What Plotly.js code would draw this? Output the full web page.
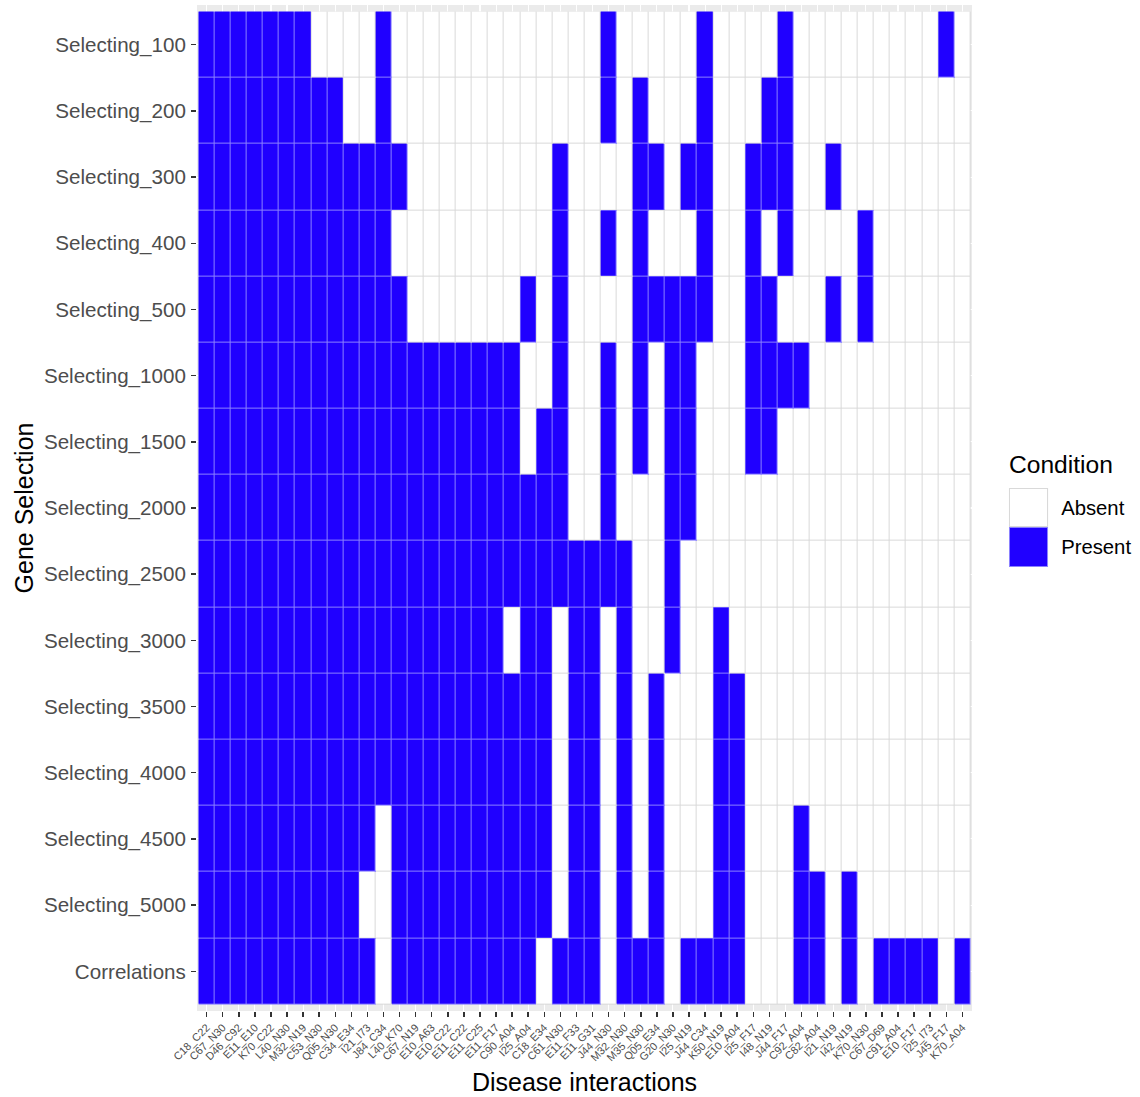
<!DOCTYPE html>
<html>
<head>
<meta charset="utf-8">
<script src="https://cdn.plot.ly/plotly-3.0.1.min.js"></script>
<style>html,body{margin:0;padding:0;background:#fff;}#chart{width:1140px;height:1097px;}</style>
</head>
<body>
<div id="chart"></div>
<script>
// ---- Data ----
const geneSelections = ['Selecting_100','Selecting_200','Selecting_300','Selecting_400','Selecting_500',
  'Selecting_1000','Selecting_1500','Selecting_2000','Selecting_2500','Selecting_3000',
  'Selecting_3500','Selecting_4000','Selecting_4500','Selecting_5000','Correlations'];

const interactions = ['C18_C22','C67_N30','D46_C92','E11_E10','K70_C22','L40_N30','M32_N19','C53_N30',
  'Q05_N30','C34_E34','I21_I73','J84_C34','L40_K70','C67_N19','E10_A63','E10_C22','E11_C22','E11_C25',
  'E11_F17','C90_A04','I25_A04','C18_E34','C61_N30','E11_F33','E11_G31','J44_N30','M32_N30','M35_N30',
  'Q05_E34','G20_N30','I25_N19','J44_C34','K50_N19','E10_A04','I25_F17','I48_N19','J44_F17','C92_A04',
  'C82_A04','I21_N19','I42_N19','K70_N30','C67_D69','C91_A04','E10_F17','I25_I73','J45_F17','K70_A04'];

const conditionLabels = ['Absent','Present'];
const conditionValues = [0, 1];

// 1 = Present, 0 = Absent (one value per interaction)
const sel100  = [1,1,1,1,1,1,1,0,0,0, 0,1,0,0,0,0,0,0,0,0, 0,0,0,0,0,1,0,0,0,0, 0,1,0,0,0,0,1,0,0,0, 0,0,0,0,0,0,1,0];
const sel200  = [1,1,1,1,1,1,1,1,1,0, 0,1,0,0,0,0,0,0,0,0, 0,0,0,0,0,1,0,1,0,0, 0,1,0,0,0,1,1,0,0,0, 0,0,0,0,0,0,0,0];
const sel300  = [1,1,1,1,1,1,1,1,1,1, 1,1,1,0,0,0,0,0,0,0, 0,0,1,0,0,0,0,1,1,0, 1,1,0,0,1,1,1,0,0,1, 0,0,0,0,0,0,0,0];
const sel400  = [1,1,1,1,1,1,1,1,1,1, 1,1,0,0,0,0,0,0,0,0, 0,0,1,0,0,1,0,1,0,0, 0,1,0,0,1,0,1,0,0,0, 0,1,0,0,0,0,0,0];
const sel500  = [1,1,1,1,1,1,1,1,1,1, 1,1,1,0,0,0,0,0,0,0, 1,0,1,0,0,0,0,1,1,1, 1,1,0,0,1,1,0,0,0,1, 0,1,0,0,0,0,0,0];
const sel1000 = [1,1,1,1,1,1,1,1,1,1, 1,1,1,1,1,1,1,1,1,1, 0,0,1,0,0,1,0,1,0,1, 1,0,0,0,1,1,1,1,0,0, 0,0,0,0,0,0,0,0];
const sel1500 = [1,1,1,1,1,1,1,1,1,1, 1,1,1,1,1,1,1,1,1,1, 0,1,1,0,0,1,0,1,0,1, 1,0,0,0,1,1,0,0,0,0, 0,0,0,0,0,0,0,0];
const sel2000 = [1,1,1,1,1,1,1,1,1,1, 1,1,1,1,1,1,1,1,1,1, 1,1,1,0,0,1,0,0,0,1, 1,0,0,0,0,0,0,0,0,0, 0,0,0,0,0,0,0,0];
const sel2500 = [1,1,1,1,1,1,1,1,1,1, 1,1,1,1,1,1,1,1,1,1, 1,1,1,1,1,1,1,0,0,1, 0,0,0,0,0,0,0,0,0,0, 0,0,0,0,0,0,0,0];
const sel3000 = [1,1,1,1,1,1,1,1,1,1, 1,1,1,1,1,1,1,1,1,0, 1,1,0,1,1,0,1,0,0,1, 0,0,1,0,0,0,0,0,0,0, 0,0,0,0,0,0,0,0];
const sel3500 = [1,1,1,1,1,1,1,1,1,1, 1,1,1,1,1,1,1,1,1,1, 1,1,0,1,1,0,1,0,1,0, 0,0,1,1,0,0,0,0,0,0, 0,0,0,0,0,0,0,0];
const sel4000 = [1,1,1,1,1,1,1,1,1,1, 1,1,1,1,1,1,1,1,1,1, 1,1,0,1,1,0,1,0,1,0, 0,0,1,1,0,0,0,0,0,0, 0,0,0,0,0,0,0,0];
const sel4500 = [1,1,1,1,1,1,1,1,1,1, 1,0,1,1,1,1,1,1,1,1, 1,1,0,1,1,0,1,0,1,0, 0,0,1,1,0,0,0,1,0,0, 0,0,0,0,0,0,0,0];
const sel5000 = [1,1,1,1,1,1,1,1,1,1, 0,0,1,1,1,1,1,1,1,1, 1,1,0,1,1,0,1,0,1,0, 0,0,1,1,0,0,0,1,1,0, 1,0,0,0,0,0,0,0];
const correlations = [1,1,1,1,1,1,1,1,1,1, 1,0,1,1,1,1,1,1,1,1, 1,0,1,1,1,0,1,1,1,0, 1,1,1,1,0,0,0,1,1,0, 1,0,1,1,1,1,0,1];

// ---- Styles ----
const BLUE = '#2000ff';
const fillScale = [[0,'#ffffff'],[0.5,'#ffffff'],[0.5,BLUE],[1,BLUE]];
const edgeScale = [[0,'#d9d9d9'],[0.5,'#d9d9d9'],[0.5,'#8a80ff'],[1,'#8a80ff']];
const FONT = 'Liberation Sans, Arial, Helvetica, sans-serif';

const z = [sel100, sel200, sel300, sel400, sel500, sel1000, sel1500, sel2000, sel2500,
  sel3000, sel3500, sel4000, sel4500, sel5000, correlations];

const base = {type:'heatmap', x: interactions, y: geneSelections, z: z, zmin:0, zmax:1,
  showscale:false, hoverinfo:'x+y', xaxis:'x', yaxis:'y'};

const traces = [
  Object.assign({}, base, {colorscale: edgeScale}),
  Object.assign({}, base, {colorscale: fillScale, xgap:1, ygap:1}),
  // legend keys drawn as a tiny heatmap
  {type:'heatmap', x:['Condition'], y: conditionLabels, z: conditionValues.map(v => [v]),
    zmin:0, zmax:1, showscale:false, colorscale: edgeScale, xaxis:'x2', yaxis:'y2', hoverinfo:'skip'},
  {type:'heatmap', x:['Condition'], y: conditionLabels, z: conditionValues.map(v => [v]),
    zmin:0, zmax:1, showscale:false, colorscale: fillScale, xgap:2, ygap:2, xaxis:'x2', yaxis:'y2', hoverinfo:'skip'}
];

const layout = {
  width:1140, height:1097,
  margin:{l:197, r:91, t:5, b:86, pad:0},
  paper_bgcolor:'#ffffff', plot_bgcolor:'#ebebeb',
  font:{family:FONT, color:'#000000'},
  showlegend:false,
  xaxis:{domain:[0, 0.9096], type:'category', range:[-0.6, 47.6],
    showgrid:true, gridcolor:'#ffffff', gridwidth:1.1, zeroline:false, showline:false,
    ticks:'outside', ticklen:5, tickwidth:1.5, tickcolor:'#333333',
    tickangle:-45, tickfont:{family:FONT, size:10.9, color:'#4d4d4d'},
    title:{text:'Disease interactions', font:{family:FONT, size:25, color:'#000000'}, standoff:11}},
  yaxis:{domain:[0,1], type:'category', range:[14.6, -0.6],
    showgrid:true, gridcolor:'#ffffff', gridwidth:1.1, zeroline:false, showline:false,
    ticks:'outside', ticklen:5, tickwidth:1.5, tickcolor:'#333333', ticklabelstandoff:1,
    tickfont:{family:FONT, size:20.6, color:'#4d4d4d'},
    title:{text:'Gene Selection', font:{family:FONT, size:25, color:'#000000'}, standoff:3}},
  xaxis2:{domain:[0.953, 0.999], anchor:'y2', type:'category', range:[-0.5,0.5],
    showgrid:false, zeroline:false, showline:false, showticklabels:false, ticks:''},
  yaxis2:{domain:[0.4414, 0.5199], anchor:'x2', side:'right', type:'category', range:[1.5,-0.5],
    showgrid:false, zeroline:false, showline:false, ticks:'', ticklabelstandoff:12,
    tickfont:{family:FONT, size:20.3, color:'#000000'}},
  annotations:[{text:'Condition', xref:'paper', yref:'paper', x:0.9505, y:0.5437,
    xanchor:'left', yanchor:'middle', showarrow:false, font:{family:FONT, size:24.6, color:'#000000'}}]
};

Plotly.newPlot('chart', traces, layout, {displayModeBar:false, staticPlot:true});
</script>
</body>
</html>
